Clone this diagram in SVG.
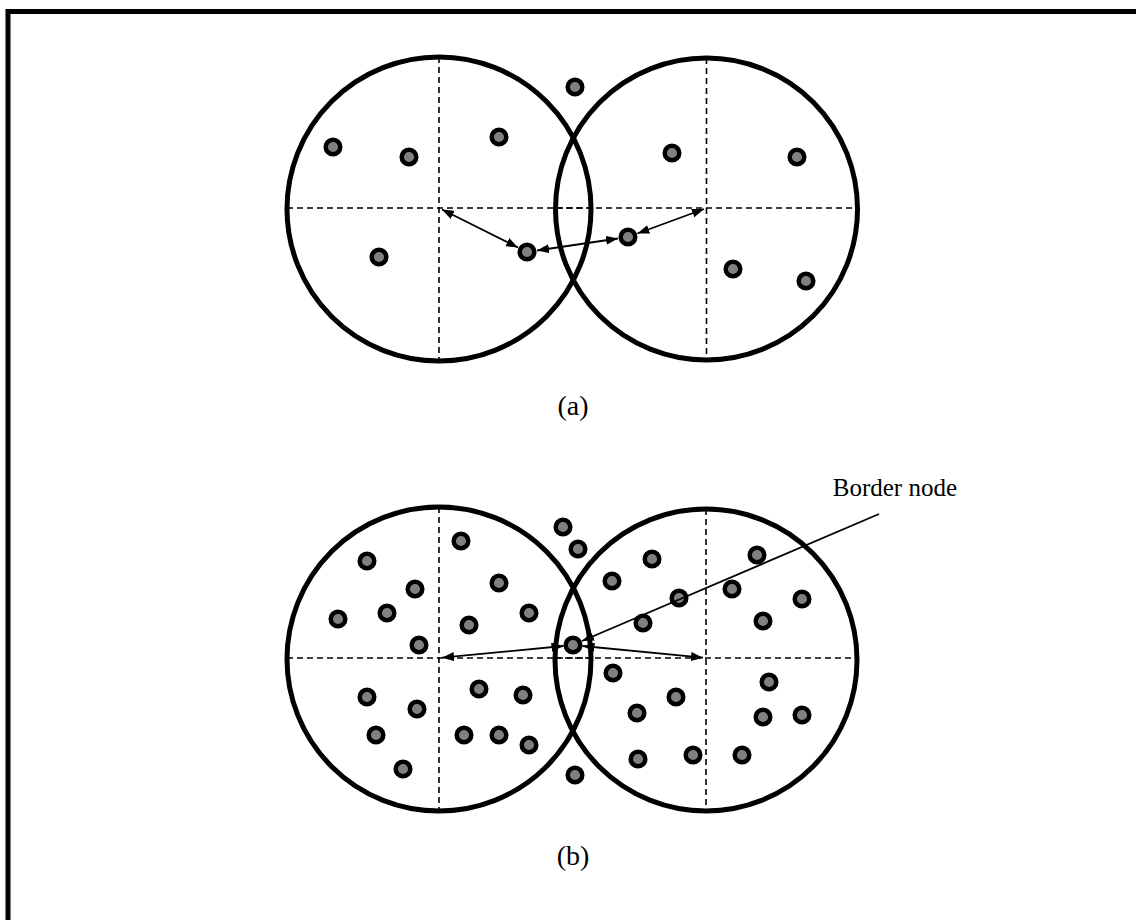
<svg xmlns="http://www.w3.org/2000/svg" width="1136" height="920" viewBox="0 0 1136 920">
<style>
.frame{fill:none;stroke:#000;stroke-width:5}
.ring{fill:none;stroke:#000;stroke-width:5}
.dash{stroke:#000;stroke-width:1.6;stroke-dasharray:6 4;fill:none}
.dot{fill:#808080;stroke:#000;stroke-width:4.5}
.conn{stroke:#000;stroke-width:1.8;fill:none}
.lbl{font-family:"Liberation Serif","Times New Roman",serif;font-size:28px;fill:#000}
.note{font-family:"Liberation Serif","Times New Roman",serif;font-size:25px;fill:#000}
</style>
<defs>
<marker id="ah" viewBox="0 0 12 9" refX="12" refY="4.5" markerWidth="12" markerHeight="9" markerUnits="userSpaceOnUse" orient="auto-start-reverse">
<path d="M0,0 L12,4.5 L0,9 z" fill="#000"/>
</marker>
</defs>
<rect class="frame" x="8" y="11.5" width="1134" height="914"/>
<g id="panel-a">
<g id="circle-a-left">
<circle class="ring" cx="439" cy="209" r="152"/>
<line class="dash" x1="439" y1="57" x2="439" y2="361"/>
<line class="dash" x1="287" y1="208" x2="591" y2="208"/>
</g>
<g id="circle-a-right">
<circle class="ring" cx="706.5" cy="209" r="151"/>
<line class="dash" x1="706.5" y1="58" x2="706.5" y2="360"/>
<line class="dash" x1="556" y1="208" x2="857" y2="208"/>
</g>
<g id="nodes-a">
<circle class="dot" cx="333" cy="147" r="7.3"/>
<circle class="dot" cx="409" cy="157" r="7.3"/>
<circle class="dot" cx="499" cy="137" r="7.3"/>
<circle class="dot" cx="379" cy="257" r="7.3"/>
<circle class="dot" cx="527" cy="252" r="7.3"/>
<circle class="dot" cx="575" cy="87" r="7.3"/>
<circle class="dot" cx="672" cy="153" r="7.3"/>
<circle class="dot" cx="797" cy="157" r="7.3"/>
<circle class="dot" cx="628" cy="237" r="7.3"/>
<circle class="dot" cx="733" cy="269" r="7.3"/>
<circle class="dot" cx="806" cy="281" r="7.3"/>
</g>
<text class="lbl" x="573" y="415" text-anchor="middle">(a)</text>
</g>
<g id="panel-b">
<g id="circle-b-left">
<circle class="ring" cx="439" cy="659" r="152"/>
<line class="dash" x1="439" y1="507" x2="439" y2="811"/>
<line class="dash" x1="287" y1="658" x2="591" y2="658"/>
</g>
<g id="circle-b-right">
<circle class="ring" cx="706" cy="660" r="151"/>
<line class="dash" x1="706" y1="509" x2="706" y2="811"/>
<line class="dash" x1="555" y1="658" x2="857" y2="658"/>
</g>
<g id="nodes-b">
<circle class="dot" cx="367" cy="561" r="7.3"/>
<circle class="dot" cx="461" cy="541" r="7.3"/>
<circle class="dot" cx="415" cy="589" r="7.3"/>
<circle class="dot" cx="499" cy="583" r="7.3"/>
<circle class="dot" cx="338" cy="619" r="7.3"/>
<circle class="dot" cx="387" cy="613" r="7.3"/>
<circle class="dot" cx="529" cy="613" r="7.3"/>
<circle class="dot" cx="469" cy="625" r="7.3"/>
<circle class="dot" cx="419" cy="645" r="7.3"/>
<circle class="dot" cx="563" cy="527" r="7.3"/>
<circle class="dot" cx="578" cy="549" r="7.3"/>
<circle class="dot" cx="479" cy="689" r="7.3"/>
<circle class="dot" cx="523" cy="695" r="7.3"/>
<circle class="dot" cx="367" cy="697" r="7.3"/>
<circle class="dot" cx="417" cy="709" r="7.3"/>
<circle class="dot" cx="376" cy="735" r="7.3"/>
<circle class="dot" cx="464" cy="735" r="7.3"/>
<circle class="dot" cx="499" cy="735" r="7.3"/>
<circle class="dot" cx="529" cy="745" r="7.3"/>
<circle class="dot" cx="403" cy="769" r="7.3"/>
<circle class="dot" cx="575" cy="775" r="7.3"/>
<circle class="dot" cx="652" cy="559" r="7.3"/>
<circle class="dot" cx="757" cy="555" r="7.3"/>
<circle class="dot" cx="612" cy="581" r="7.3"/>
<circle class="dot" cx="732" cy="589" r="7.3"/>
<circle class="dot" cx="679" cy="598" r="7.3"/>
<circle class="dot" cx="802" cy="599" r="7.3"/>
<circle class="dot" cx="643" cy="623" r="7.3"/>
<circle class="dot" cx="763" cy="621" r="7.3"/>
<circle class="dot" cx="613" cy="673" r="7.3"/>
<circle class="dot" cx="769" cy="682" r="7.3"/>
<circle class="dot" cx="676" cy="697" r="7.3"/>
<circle class="dot" cx="637" cy="713" r="7.3"/>
<circle class="dot" cx="763" cy="717" r="7.3"/>
<circle class="dot" cx="802" cy="715" r="7.3"/>
<circle class="dot" cx="638" cy="759" r="7.3"/>
<circle class="dot" cx="693" cy="755" r="7.3"/>
<circle class="dot" cx="742" cy="755" r="7.3"/>
</g>
<g id="border-node">
<circle class="dot" cx="573" cy="645" r="7.3"/>
</g>
<text class="note" x="957" y="496" text-anchor="end">Border node</text>
<text class="lbl" x="573" y="865" text-anchor="middle">(b)</text>
</g>
<g id="connectors">
<line class="conn" x1="442" y1="209.5" x2="518" y2="247.5" marker-start="url(#ah)" marker-end="url(#ah)"/>
<line class="conn" x1="537" y1="250.5" x2="618" y2="238.5" marker-start="url(#ah)" marker-end="url(#ah)"/>
<line class="conn" x1="637.4" y1="233.5" x2="704" y2="209" marker-start="url(#ah)" marker-end="url(#ah)"/>
<line class="conn" x1="563.5" y1="646" x2="442" y2="657.7" marker-start="url(#ah)" marker-end="url(#ah)"/>
<line class="conn" x1="582.5" y1="646" x2="703" y2="657.7" marker-start="url(#ah)" marker-end="url(#ah)"/>
<line class="conn" x1="879" y1="514" x2="582" y2="641" marker-end="url(#ah)"/>
</g>
</svg>
